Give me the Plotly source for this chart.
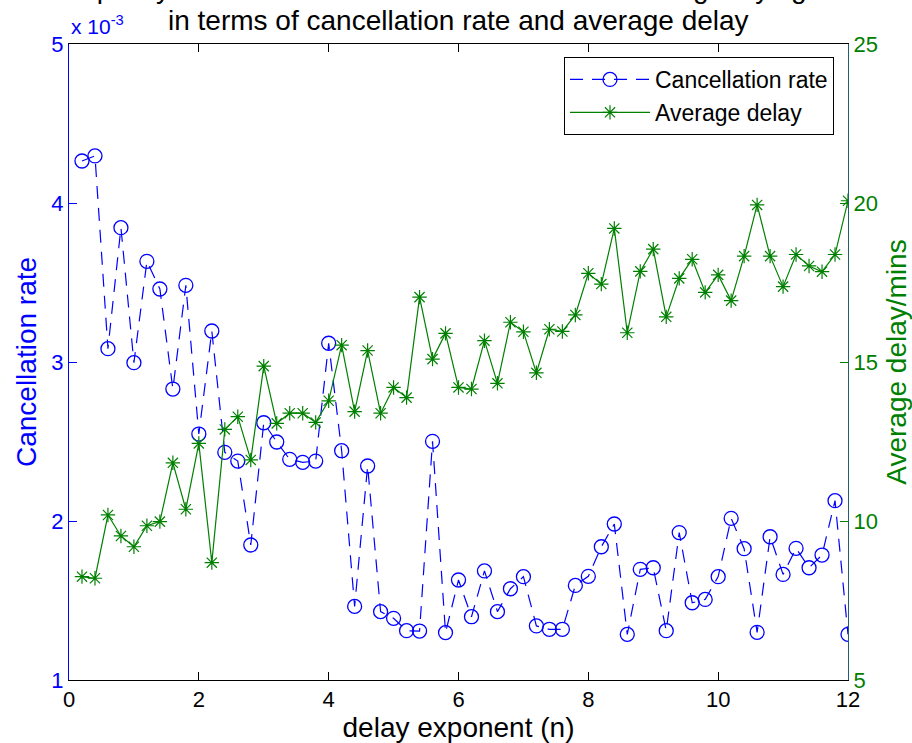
import plotly.graph_objects as go

n_values = [round(0.2 * k, 1) for k in range(1, 61)]

cancellation_rate_e3 = [
    4.264, 4.296, 3.084, 3.845, 2.996, 3.633, 3.459, 2.830, 3.482, 2.547,
    3.195, 2.432, 2.377, 1.849, 2.618, 2.497, 2.388, 2.369, 2.377, 3.118,
    2.442, 1.463, 2.346, 1.430, 1.388, 1.310, 1.308, 2.501, 1.298, 1.629,
    1.398, 1.686, 1.430, 1.574, 1.650, 1.340, 1.319, 1.319, 1.595, 1.652,
    1.838, 1.981, 1.287, 1.696, 1.706, 1.310, 1.927, 1.486, 1.507, 1.650,
    2.017, 1.826, 1.300, 1.901, 1.664, 1.828, 1.706, 1.786, 2.128, 1.287,
]

average_delay = [
    8.25, 8.20, 10.19, 9.53, 9.19, 9.85, 9.98, 11.83, 10.37, 12.44,
    8.69, 12.88, 13.28, 11.92, 14.87, 13.07, 13.39, 13.39, 13.10, 13.78,
    15.53, 13.44, 15.36, 13.39, 14.20, 13.88, 17.04, 15.09, 15.90, 14.20,
    14.15, 15.67, 14.33, 16.25, 15.95, 14.66, 16.03, 15.96, 16.48, 17.79,
    17.45, 19.20, 15.92, 17.85, 18.55, 16.42, 17.63, 18.23, 17.19, 17.74,
    16.93, 18.33, 19.94, 18.33, 17.37, 18.38, 18.02, 17.84, 18.38, 20.07,
]

left_ticks = [1, 2, 3, 4, 5]
right_ticks = [5, 10, 15, 20, 25]
x_ticks = [0, 2, 4, 6, 8, 10, 12]

FONT = "Liberation Sans, Arial, sans-serif"
BLUE = "#0000ff"
GREEN = "#008000"

fig = go.Figure()
fig.add_trace(go.Scatter(
    x=n_values, y=cancellation_rate_e3, name="Cancellation rate",
    mode="lines+markers",
    line=dict(color=BLUE, width=1.2, dash="13px,9px"),
    marker=dict(symbol="circle-open", size=14, color=BLUE, line=dict(width=1.3, color=BLUE)),
    yaxis="y",
))
fig.add_trace(go.Scatter(
    x=n_values, y=average_delay, name="Average delay",
    mode="lines+markers",
    line=dict(color=GREEN, width=1.2),
    marker=dict(symbol="asterisk-open", size=12, color=GREEN, line=dict(width=1.2, color=GREEN)),
    yaxis="y2",
))

fig.update_layout(
    width=912, height=743,
    margin=dict(l=69, r=64, t=44, b=63, autoexpand=False),
    paper_bgcolor="white", plot_bgcolor="white",
    font=dict(family=FONT, size=22, color="black"),
    showlegend=True,
    legend=dict(
        x=(564 - 69) / 779, y=(680 - 57) / 636, xanchor="left", yanchor="top",
        bordercolor="black", borderwidth=1, bgcolor="white",
        font=dict(family=FONT, size=23, color="black"),
        tracegroupgap=0, itemwidth=80,
    ),
    xaxis=dict(
        range=[0, 12], tickvals=x_ticks, ticks="inside", ticklen=8, tickcolor="black",
        showline=True, linecolor="black", linewidth=1, mirror="ticks",
        showgrid=False, zeroline=False,
        tickfont=dict(size=22, color="black"),
        title=dict(text="delay exponent (n)", font=dict(size=28, color="black"), standoff=2),
    ),
    yaxis=dict(
        range=[1, 5], tickvals=left_ticks, ticks="inside", ticklen=8, tickcolor=BLUE,
        showline=True, linecolor=BLUE, linewidth=1,
        showgrid=False, zeroline=False,
        tickfont=dict(size=22, color=BLUE),
        title=dict(text="Cancellation rate", font=dict(size=28, color=BLUE), standoff=6),
    ),
    yaxis2=dict(
        range=[5, 25], tickvals=right_ticks, ticks="inside", ticklen=8, tickcolor=GREEN,
        overlaying="y", side="right",
        showline=True, linecolor="#1f5f6f", linewidth=1,
        showgrid=False, zeroline=False,
        tickfont=dict(size=22, color=GREEN),
        title=dict(text="Average delay/mins", font=dict(size=28, color=GREEN), standoff=12),
    ),
)

fig.add_annotation(
    text="x 10<sup>-3</sup>", xref="paper", yref="paper", x=0.0, y=(680 - 40) / 636,
    xanchor="left", yanchor="bottom", showarrow=False,
    font=dict(family=FONT, size=21, color=BLUE),
)
fig.add_annotation(
    text="in terms of cancellation rate and average delay", xref="paper", yref="paper",
    x=0.5, y=(680 - 38) / 636, xanchor="center", yanchor="bottom", showarrow=False,
    font=dict(family=FONT, size=28, color="black"),
)
fig.add_annotation(
    text="Capacity of the network model as tested when using varying n", xref="paper", yref="paper",
    x=(445 - 69) / 779, y=(680 - 6) / 636, xanchor="center", yanchor="bottom", showarrow=False,
    font=dict(family=FONT, size=28, color="black"),
)

fig.write_html("out.html")
